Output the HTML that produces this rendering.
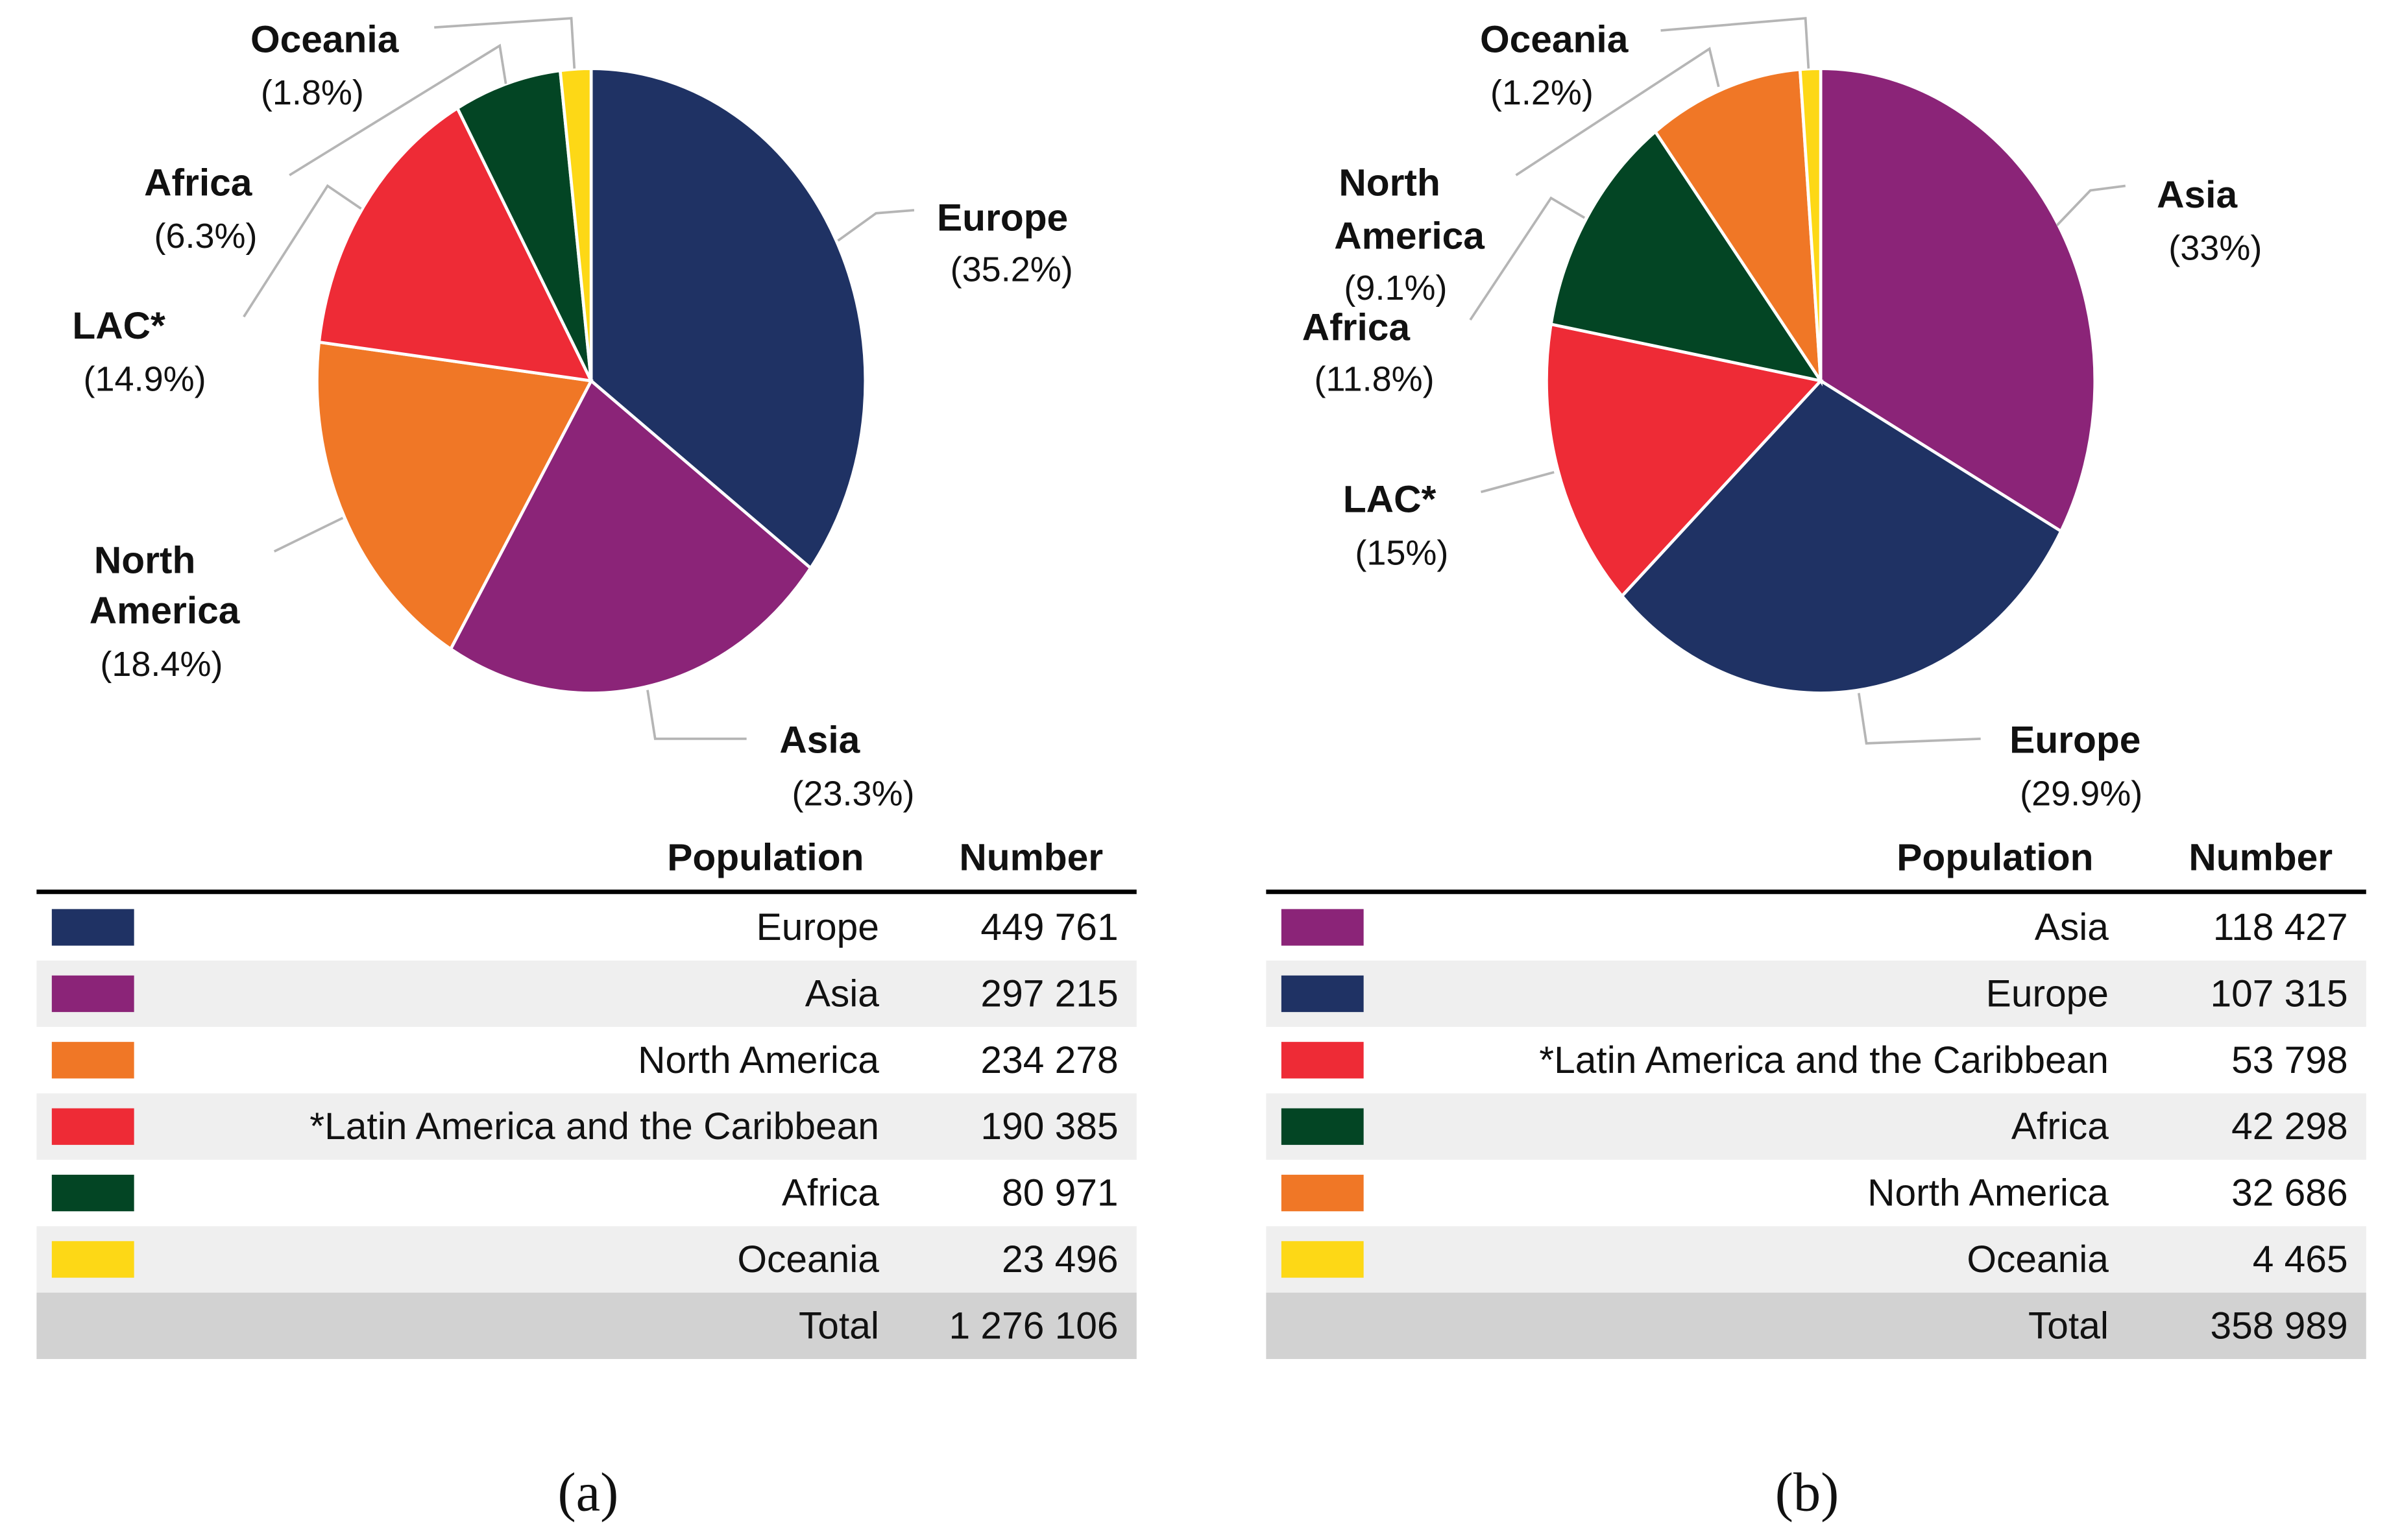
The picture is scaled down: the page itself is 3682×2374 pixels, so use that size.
<!DOCTYPE html>
<html><head><meta charset="utf-8"><style>
html,body{margin:0;padding:0;background:#fff;}
svg{display:block;}
text{font-family:"Liberation Sans",sans-serif;}
</style></head><body>
<svg id="chart" width="3682" height="2374" viewBox="0 0 1568 1011" preserveAspectRatio="none" xmlns="http://www.w3.org/2000/svg">
<rect width="1568" height="1011" fill="#fff"/>
<g id="root"></g>
</svg>
<script>
const colors = {Europe:"#1f3264",Asia:"#8b2478","North America":"#f07726",LAC:"#ee2b36",Africa:"#034524",Oceania:"#fdd816"};
const catsA = ["Europe","Asia","North America","LAC","Africa","Oceania"];
const pctA = [35.2,23.3,18.4,14.9,6.3,1.8];
const catsB = ["Asia","Europe","LAC","Africa","North America","Oceania"];
const pctB = [33,29.9,15,11.8,9.1,1.2];
const tableNamesA = ["Europe","Asia","North America","*Latin America and the Caribbean","Africa","Oceania"];
const tableValsA = ["449 761","297 215","234 278","190 385","80 971","23 496"];
const totalA = "1 276 106";
const tableNamesB = ["Asia","Europe","*Latin America and the Caribbean","Africa","North America","Oceania"];
const tableValsB = ["118 427","107 315","53 798","42 298","32 686","4 465"];
const totalB = "358 989";

const NS="http://www.w3.org/2000/svg";
const root=document.getElementById('root');
function el(tag,attrs,parent){const e=document.createElementNS(NS,tag);for(const k in attrs)e.setAttribute(k,attrs[k]);(parent||root).appendChild(e);return e;}
function txt(x,y,s,size,weight,anchor,parent,name,fam){const t=el('text',{x:x,y:y,'font-size':size,'font-weight':weight,'text-anchor':anchor,fill:'#111','dominant-baseline':'central'},parent);if(fam)t.setAttribute('style','font-family:'+fam);t.textContent=s;


return t;}

function pie(cx,cy,rx,ry,cats,pcts,id){
  const g=el('g',{});
  
  
  const tot=pcts.reduce((a,b)=>a+b,0);
  let a0=0;
  cats.forEach((c,i)=>{
    const a1=a0+pcts[i]/tot*2*Math.PI;
    const x0=cx+rx*Math.sin(a0),y0=cy-ry*Math.cos(a0),x1=cx+rx*Math.sin(a1),y1=cy-ry*Math.cos(a1);
    const large=(a1-a0)>Math.PI?1:0;
    const p=el('path',{d:`M${cx},${cy} L${x0},${y0} A${rx},${ry} 0 ${large} 1 ${x1},${y1} Z`,fill:colors[c],stroke:'#fff','stroke-width':2},g);
    
    
    a0=a1;
  });
}
pie(388,250,180,205,catsA,pctA,'pie-a');
pie(1195,250,180,205,catsB,pctB,'pie-b');

function leader(pts,name){const l=el('polyline',{points:pts,fill:'none',stroke:'#b5b5b5','stroke-width':1.6});

}
function label(lines,pct,xs,ys,name){
  lines.forEach((s,i)=>txt(xs[i],ys[i],s,25,'bold','middle',null,name+'-label'));
  txt(xs[lines.length],ys[lines.length],'('+pct+'%)',23,'normal','middle',null,name+'-percent');
}
// pie a labels
leader("377,45 375,12 285,18",'leader-a-oceania'); label(["Oceania"],pctA[5],[213,205],[26,61],'a-oceania');
leader("332,55 328,30 190,115",'leader-a-africa'); label(["Africa"],pctA[4],[130,135],[120,155],'a-africa');
leader("237,137 215,122 160,208",'leader-a-lac'); label(["LAC*"],pctA[3],[78,95],[214,249],'a-lac');
leader("225,340 180,362",'leader-a-na'); label(["North","America"],pctA[2],[95,108,106],[368,401,436],'a-north-america');
leader("425,453 430,485 490,485",'leader-a-asia'); label(["Asia"],pctA[1],[538,560],[486,521],'a-asia');
leader("550,158 575,140 600,138",'leader-a-europe'); label(["Europe"],pctA[0],[658,664],[143,177],'a-europe');
// pie b labels
leader("1187,45 1185,12 1090,20",'leader-b-oceania'); label(["Oceania"],pctB[5],[1020,1012],[26,61],'b-oceania');
leader("1128,57 1122,32 995,115",'leader-b-na'); label(["North","America"],pctB[4],[912,925,916],[120,155,189],'b-north-america');
leader("1040,143 1018,130 965,210",'leader-b-africa'); label(["Africa"],pctB[3],[890,902],[215,249],'b-africa');
leader("1020,310 972,323",'leader-b-lac'); label(["LAC*"],pctB[2],[912,920],[328,363],'b-lac');
leader("1220,455 1225,488 1300,485",'leader-b-europe'); label(["Europe"],pctB[1],[1362,1366],[486,521],'b-europe');
leader("1350,148 1372,125 1395,122",'leader-b-asia'); label(["Asia"],pctB[0],[1442,1454],[128,163],'b-asia');

function table(x0,x1,names,vals,total,colorKeys,id){
  const g=el('g',{});
  
  
  const off=x0-24;
  txt(567+off,563,'Population',25,'bold','end',g,id+'-header-population');
  txt(724+off,563,'Number',25,'bold','end',g,id+'-header-number');
  el('line',{x1:x0,x2:x1,y1:585.5,y2:585.5,stroke:'#000','stroke-width':3},g);
  const rh=43.6;
  names.forEach((n,i)=>{
    const y=587+i*rh;
    el('rect',{x:x0,y:y,width:x1-x0,height:rh,fill:i%2?'#efefef':'#fff'},g);
    const sw=el('rect',{x:x0+10,y:y+rh/2-12,width:54,height:24,fill:colors[colorKeys[i]]},g);
    
    
    txt(577+off,y+rh/2,n,25,'normal','end',g,id+'-row-name');
    txt(734+off,y+rh/2,vals[i],25,'normal','end',g,id+'-row-value');
  });
  const yt=587+names.length*rh;
  el('rect',{x:x0,y:yt,width:x1-x0,height:rh,fill:'#d2d2d2'},g);
  txt(577+off,yt+rh/2,'Total',25,'normal','end',g,id+'-total-label');
  txt(734+off,yt+rh/2,total,25,'normal','end',g,id+'-total-value');
}
table(24,746,tableNamesA,tableValsA,totalA,catsA,'table-a');
table(831,1553,tableNamesB,tableValsB,totalB,catsB,'table-b');

txt(386,980,'(a)',36,'normal','middle',null,'caption-a','"Liberation Serif",serif');
txt(1186,980,'(b)',36,'normal','middle',null,'caption-b','"Liberation Serif",serif');
</script>
</body></html>
